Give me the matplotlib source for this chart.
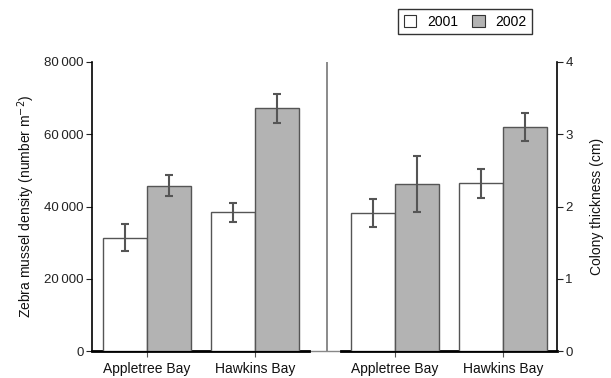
import matplotlib
matplotlib.use("Agg")
import matplotlib.pyplot as plt
from matplotlib.patches import Patch
from matplotlib.ticker import FuncFormatter

plt.rcParams['font.family'] = ['Liberation Sans', 'DejaVu Sans']

sites = ["Appletree Bay", "Hawkins Bay"]
years = ["2001", "2002"]

# Zebra mussel density (number m^-2), mean and error
density_2001 = [31400, 38400]
density_2002 = [45700, 67200]
density_err_2001 = [3650, 2600]
density_err_2002 = [2900, 4000]

# Colony thickness (cm), mean and error
thick_2001 = [1.91, 2.32]
thick_2002 = [2.31, 3.10]
thick_err_2001 = [0.20, 0.20]
thick_err_2002 = [0.39, 0.20]

fill_2001 = "white"
fill_2002 = "#b3b3b3"
edge = "#555555"
err_color = "#555555"

fig = plt.figure(figsize=(6.11, 3.78), dpi=100)
ax = fig.add_axes([92 / 611, 27 / 378, 465 / 611, 289 / 378])
ax2 = ax.twinx()

bw = 1.0
left_centers = [1.25, 3.70]
right_centers = [6.89, 9.34]

ekw = dict(ecolor=err_color, elinewidth=1.5, capsize=2.6, capthick=1.5)

for i in range(2):
    ax.bar(left_centers[i] - bw / 2, density_2001[i], bw, color=fill_2001,
           edgecolor=edge, linewidth=1.0, zorder=3)
    ax.bar(left_centers[i] + bw / 2, density_2002[i], bw, color=fill_2002,
           edgecolor=edge, linewidth=1.0, zorder=3)
    ax.errorbar(left_centers[i] - bw / 2, density_2001[i], yerr=density_err_2001[i],
                fmt="none", zorder=4, **ekw)
    ax.errorbar(left_centers[i] + bw / 2, density_2002[i], yerr=density_err_2002[i],
                fmt="none", zorder=4, **ekw)

    ax2.bar(right_centers[i] - bw / 2, thick_2001[i], bw, color=fill_2001,
            edgecolor=edge, linewidth=1.0, zorder=3)
    ax2.bar(right_centers[i] + bw / 2, thick_2002[i], bw, color=fill_2002,
            edgecolor=edge, linewidth=1.0, zorder=3)
    ax2.errorbar(right_centers[i] - bw / 2, thick_2001[i], yerr=thick_err_2001[i],
                 fmt="none", zorder=4, **ekw)
    ax2.errorbar(right_centers[i] + bw / 2, thick_2002[i], yerr=thick_err_2002[i],
                 fmt="none", zorder=4, **ekw)

xmax = 465 / 44
ax.set_xlim(0, xmax)
ax2.set_xlim(0, xmax)
ax.set_ylim(0, 80000)
ax2.set_ylim(0, 4)

# baseline: black under each panel, thin grey between panels
divider = 235 / 44
ax.plot([0, xmax], [0, 0], color="#888888", lw=1.0, zorder=1, clip_on=False)
ax.plot([0, 217 / 44], [0, 0], color="black", lw=2.0, zorder=2, clip_on=False)
ax.plot([249 / 44, xmax], [0, 0], color="black", lw=2.0, zorder=2, clip_on=False)
ax.axvline(divider, color="#777777", lw=1.2, zorder=1)

for a in (ax, ax2):
    a.spines["top"].set_visible(False)
    a.spines["bottom"].set_visible(False)
ax.spines["right"].set_visible(False)
ax2.spines["left"].set_visible(False)
ax.spines["left"].set_linewidth(1.2)
ax2.spines["right"].set_linewidth(1.2)

ax.set_yticks([0, 20000, 40000, 60000, 80000])
ax.yaxis.set_major_formatter(FuncFormatter(
    lambda v, p: "0" if v == 0 else f"{int(v):,}".replace(",", "\u2009")))
ax2.set_yticks([0, 1, 2, 3, 4])
ax.tick_params(axis="y", direction="out", length=4, width=0.8, labelsize=9.5,
               pad=2, colors="#222222")
ax2.tick_params(axis="y", direction="out", length=4, width=0.8, labelsize=9.5,
                pad=2, colors="#222222")

ax.set_xticks(left_centers + right_centers)
ax.set_xticklabels(sites + sites, fontsize=10, color="#111111")
ax.tick_params(axis="x", direction="out", length=4, width=0.8, pad=4, color=edge)
ax2.tick_params(axis="x", length=0)

ax.set_ylabel("Zebra mussel density (number m$^{-2}$)", fontsize=10, labelpad=5,
              color="#111111")
ax2.set_ylabel("Colony thickness (cm)", fontsize=10, labelpad=12, color="#111111")

handles = [Patch(facecolor=fill_2001, edgecolor="#333333", linewidth=0.8),
           Patch(facecolor=fill_2002, edgecolor="#333333", linewidth=0.8)]
leg = fig.legend(handles, years, loc="upper left", ncol=2,
                 bbox_to_anchor=(398 / 611, 1 - 9 / 378), fontsize=10,
                 frameon=True, fancybox=False, edgecolor="black",
                 handlelength=0.9, handleheight=0.9, handletextpad=0.8,
                 columnspacing=1.0, borderpad=0.4, borderaxespad=0)
leg.get_frame().set_linewidth(1.0)

fig.savefig("out.png", dpi=100)
